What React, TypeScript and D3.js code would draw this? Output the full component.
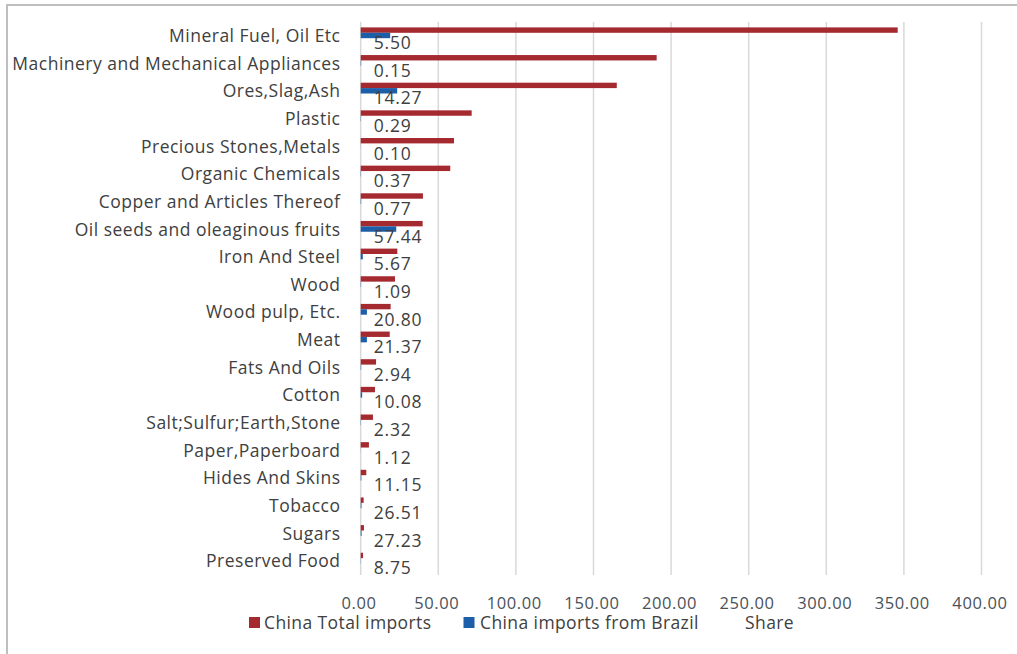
import React, { useEffect, useRef } from "react";
import * as d3 from "d3";

const categories = [
  "Mineral Fuel, Oil Etc",
  "Machinery and Mechanical Appliances",
  "Ores,Slag,Ash",
  "Plastic",
  "Precious Stones,Metals",
  "Organic Chemicals",
  "Copper and Articles Thereof",
  "Oil seeds and oleaginous fruits",
  "Iron And Steel",
  "Wood",
  "Wood pulp, Etc.",
  "Meat",
  "Fats And Oils",
  "Cotton",
  "Salt;Sulfur;Earth,Stone",
  "Paper,Paperboard",
  "Hides And Skins",
  "Tobacco",
  "Sugars",
  "Preserved Food",
];

const chinaTotalImports = [
  346, 190.7, 165, 71.5, 60.1, 57.7, 40.1, 39.9, 23.6, 22.1, 19.3, 18.7, 9.9,
  9.2, 7.9, 5.3, 3.6, 1.9, 2.1, 1.5,
];

const chinaImportsFromBrazil = [
  19.0, 0.29, 23.5, 0.21, 0.06, 0.21, 0.31, 22.9, 1.34, 0.24, 4.01, 4.0, 0.29,
  0.93, 0.18, 0.06, 0.4, 0.5, 0.57, 0.13,
];

const share = [
  5.5, 0.15, 14.27, 0.29, 0.1, 0.37, 0.77, 57.44, 5.67, 1.09, 20.8, 21.37, 2.94,
  10.08, 2.32, 1.12, 11.15, 26.51, 27.23, 8.75,
];

const xTicks = [0, 50, 100, 150, 200, 250, 300, 350, 400];

const seriesNames = ["China Total imports", "China imports from Brazil", "Share"];

const W = 1017;
const H = 654;
const RED = "#a52a30";
const BLUE = "#1c5ea8";
const TEXT = "#404040";
const FONT = "'Open Sans', sans-serif";

export default function App() {
  const ref = useRef<SVGSVGElement>(null);

  useEffect(() => {
    const svg = d3.select(ref.current);
    svg.selectAll("*").remove();

    const x = d3.scaleLinear().domain([0, 400]).range([360.7, 981.5]);
    const y = d3.scaleBand<string>().domain(categories).range([22, 575]);
    const inner = d3
      .scaleBand<string>()
      .domain(["total", "brazil", "share"])
      .range([5.4, 5.4 + 16.2]);

    // chart frame (top and left edges)
    svg
      .append("path")
      .attr("d", `M7,${H} L7,5 L${W},5`)
      .attr("fill", "none")
      .attr("stroke", "#bfbfbf")
      .attr("stroke-width", 2);

    // vertical gridlines
    svg
      .append("g")
      .selectAll("line")
      .data(xTicks)
      .join("line")
      .attr("x1", (d) => x(d))
      .attr("x2", (d) => x(d))
      .attr("y1", 22)
      .attr("y2", 575)
      .attr("stroke", "#d9d9d9")
      .attr("stroke-width", 1.5);

    // x tick labels
    svg
      .append("g")
      .selectAll("text")
      .data(xTicks)
      .join("text")
      .attr("x", (d) => x(d) - 1.6)
      .attr("y", 609)
      .attr("text-anchor", "middle")
      .attr("font-family", FONT)
      .attr("font-size", 16.5)
      .attr("letter-spacing", 0.6)
      .attr("fill", "#4a5259")
      .text((d) => d3.format(".2f")(d));

    // category labels
    svg
      .append("g")
      .selectAll("text")
      .data(categories)
      .join("text")
      .attr("x", 340.5)
      .attr("y", (d) => (y(d) as number) + y.bandwidth() / 2)
      .attr("dy", "0.35em")
      .attr("text-anchor", "end")
      .attr("font-family", FONT)
      .attr("font-size", 17.5)
      .attr("letter-spacing", 0.5)
      .attr("fill", TEXT)
      .text((d) => d);

    // total imports bars
    svg
      .append("g")
      .selectAll("rect")
      .data(categories)
      .join("rect")
      .attr("x", x(0))
      .attr("y", (d) => (y(d) as number) + (inner("total") as number))
      .attr("width", (_d, i) => x(chinaTotalImports[i]) - x(0))
      .attr("height", inner.bandwidth())
      .attr("fill", RED);

    // imports from Brazil bars
    svg
      .append("g")
      .selectAll("rect")
      .data(categories)
      .join("rect")
      .attr("x", x(0))
      .attr("y", (d) => (y(d) as number) + (inner("brazil") as number))
      .attr("width", (_d, i) => x(chinaImportsFromBrazil[i]) - x(0))
      .attr("height", inner.bandwidth())
      .attr("fill", BLUE);

    // share labels at the inside base
    svg
      .append("g")
      .selectAll("text")
      .data(categories)
      .join("text")
      .attr("x", x(0) + 13)
      .attr(
        "y",
        (d) =>
          (y(d) as number) + (inner("share") as number) + inner.bandwidth() / 2 + 2
      )
      .attr("dy", "0.35em")
      .attr("font-family", FONT)
      .attr("font-size", 17.5)
      .attr("letter-spacing", 0.8)
      .attr("fill", TEXT)
      .text((_d, i) => d3.format(".2f")(share[i]));

    // legend
    const legendItems = [
      { name: seriesNames[0], color: RED, mx: 249, tx: 264 },
      { name: seriesNames[1], color: BLUE, mx: 463.5, tx: 480 },
      { name: seriesNames[2], color: "none", mx: 730, tx: 745 },
    ];
    const lg = svg.append("g");
    legendItems.forEach((it) => {
      if (it.color !== "none") {
        lg.append("rect")
          .attr("x", it.mx)
          .attr("y", 617)
          .attr("width", 11)
          .attr("height", 11)
          .attr("fill", it.color);
      }
      lg.append("text")
        .attr("x", it.tx)
        .attr("y", 629)
        .attr("font-family", FONT)
        .attr("font-size", 17.5)
        .attr("letter-spacing", 0.4)
        .attr("fill", TEXT)
        .text(it.name);
    });
  }, []);

  return (
    <svg
      ref={ref}
      width={W}
      height={H}
      style={{ position: "absolute", left: 0, top: 0, background: "#fff" }}
    />
  );
}
